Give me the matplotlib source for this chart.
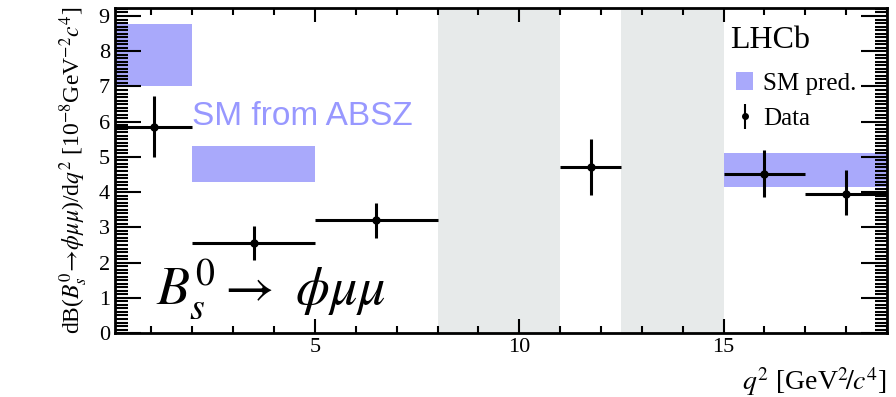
import matplotlib
matplotlib.use("Agg")
import matplotlib.pyplot as plt
from matplotlib.patches import Patch
from matplotlib.ticker import MultipleLocator

plt.rcParams["font.family"] = ["Liberation Serif", "DejaVu Serif"]
plt.rcParams["mathtext.fontset"] = "stix"

# measured bins of q^2 [GeV^2/c^4] and dB/dq^2 [1e-8 GeV^-2 c^4]
bin_lo = [0.1, 2.0, 5.0, 11.0, 15.0, 17.0]
bin_hi = [2.0, 5.0, 8.0, 12.5, 17.0, 19.0]
data_x = [1.05, 3.5, 6.5, 11.75, 16.0, 18.0]
data_y = [5.85, 2.56, 3.21, 4.71, 4.52, 3.96]
err_up = [0.87, 0.48, 0.49, 0.80, 0.69, 0.68]
err_dn = [0.85, 0.48, 0.50, 0.79, 0.67, 0.60]

# SM prediction bands
sm_lo = [0.1, 2.0, 15.0]
sm_hi = [2.0, 5.0, 19.0]
sm_bottom = [7.0, 4.3, 4.15]
sm_top = [8.78, 5.3, 5.1]

# vetoed charmonium regions
veto = [(8.0, 11.0), (12.5, 15.0)]

sm_color = "#a9a9fb"

fig = plt.figure(figsize=(8.96, 3.97), dpi=100)
ax = fig.add_axes([0.128, 0.161, 0.862, 0.82])

for lo, hi in veto:
    ax.axvspan(lo, hi, color="#e7eaea", lw=0, zorder=0)

for lo, hi, b, t in zip(sm_lo, sm_hi, sm_bottom, sm_top):
    ax.fill_between([lo, hi], b, t, color=sm_color, lw=0, zorder=1)

xerr = [[x - lo for x, lo in zip(data_x, bin_lo)],
        [hi - x for x, hi in zip(data_x, bin_hi)]]
ax.errorbar(data_x, data_y, xerr=xerr, yerr=[err_dn, err_up], fmt="o",
            color="black", ms=5, elinewidth=2.2, capsize=0, zorder=3)

ax.set_xlim(0.1, 19.0)
ax.set_ylim(0, 9.24)

ax.xaxis.set_major_locator(MultipleLocator(5))
ax.xaxis.set_minor_locator(MultipleLocator(1))
ax.yaxis.set_major_locator(MultipleLocator(1))
ax.yaxis.set_minor_locator(MultipleLocator(0.1))
ax.tick_params(axis="both", which="both", direction="in", width=1.5,
               top=True, right=True, labelsize=16)
ax.tick_params(axis="x", which="major", length=10)
ax.tick_params(axis="x", which="minor", length=5)
ax.tick_params(axis="y", which="major", length=19)
ax.tick_params(axis="y", which="minor", length=9)
for s in ax.spines.values():
    s.set_linewidth(2)

ax.set_xlabel(r"$q^2$ [GeV$^2\!/c^4$]", fontsize=20, loc="right", labelpad=6)
ax.set_ylabel(r"dB($B_s^0\!\rightarrow\!\phi\mu\mu$)/d$q^2$ [10$^{-8}$GeV$^{-2}c^4$]",
              fontsize=17, labelpad=6)

ax.text(2.0, 6.15, "SM from ABSZ", color="#9898ff", fontsize=24,
        family=["Liberation Sans", "DejaVu Sans"], va="center", ha="left")
ax.text(1.1, 1.25, r"$B_s^0 \rightarrow\ \phi\mu\mu$", fontsize=39,
        va="center", ha="left")

ax.text(15.15, 8.3, "LHCb", fontsize=23, va="center", ha="left")
handles = [Patch(facecolor=sm_color, edgecolor="none"),
           ax.errorbar([], [], yerr=[], fmt="o", color="black", ms=4,
                       elinewidth=1.5)]
ax.legend(handles, ["SM pred.", "Data"], loc="upper left",
          bbox_to_anchor=(0.775, 0.87), frameon=False, fontsize=18,
          handlelength=0.7, handletextpad=0.4, labelspacing=0.5)

fig.savefig("out.png", dpi=100)
